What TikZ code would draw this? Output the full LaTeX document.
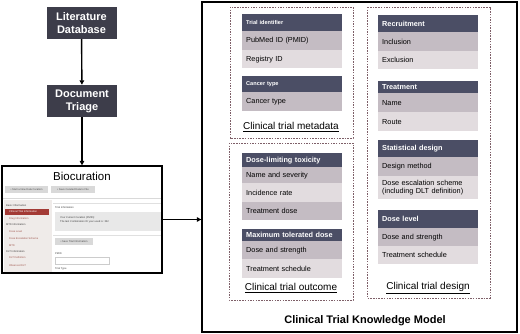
\documentclass[tikz,border=0pt]{standalone}
\usepackage{fontspec}
\setmainfont{Liberation Sans}
\usetikzlibrary{arrows.meta}
\definecolor{hdr}{HTML}{4B4E65}
\definecolor{rowa}{HTML}{C4BCC3}
\definecolor{rowb}{HTML}{E2DCDF}
\definecolor{boxdark}{HTML}{3D3D4A}
\definecolor{dashc}{HTML}{7E5F68}
\definecolor{sel}{HTML}{A33A35}
\definecolor{side}{HTML}{EFEBE9}
\definecolor{subt}{HTML}{A0584F}
\begin{document}
\begin{tikzpicture}[x=1pt,y=-1pt,
  stage/.style={fill=boxdark,text=white,font=\fontsize{11}{13}\selectfont\bfseries,align=center,minimum width=70,minimum height=32,inner sep=0},
  cell/.style={anchor=north west,text width=92,inner xsep=4,inner ysep=0,align=left,minimum width=100,font=\fontsize{7.3}{8.4}\selectfont},
  hd/.style={cell,fill=hdr,text=white,font=\fontsize{7.3}{8.4}\selectfont\bfseries},
  hds/.style={hd,font=\fontsize{5.6}{6.5}\selectfont\bfseries},
  ra/.style={cell,fill=rowa},
  rb/.style={cell,fill=rowb},
  grp/.style={draw=dashc,dashed,line width=0.6,dash pattern=on 1.5 off 1.2},
  glab/.style={font=\fontsize{10}{12}\selectfont},
  conn/.style={line width=1.4,-{Triangle[length=4.5,width=4.5]}},
  tiny/.style={font=\fontsize{2.6}{3}\selectfont,inner sep=0,anchor=west,text=black!75},
  subi/.style={tiny,text=subt},
  btn/.style={fill=black!15,font=\fontsize{2.6}{3}\selectfont,text=black!70,inner sep=0,minimum height=7}
]
\useasboundingbox (0,0) rectangle (520,334);

% left pipeline
\node[stage] (lit) at (81.5,23) {Literature\\Database};
\node[stage] (doc) at (82,101) {Document\\Triage};
\node[draw=black,line width=1.2,minimum width=160,minimum height=107,inner sep=0] (bio) at (82,219.5) {};
\node[font=\fontsize{11.5}{13}\selectfont] (biot) at (82,176) {Biocuration};
\node[btn,minimum width=43] (b1) at (26.5,190) {\textbullet\ Start a New Data Curation};
\node[btn,minimum width=44] (b2) at (73,190) {\textbullet\ Save Curated Data to File};
\draw[black!15,line width=0.4] (3,198) -- (161,198);
\fill[side] (4,200) rectangle (52,272);
\node[tiny] (s1) at (6,206) {Basic Information};
\fill[sel] (5,209) rectangle (49,215);
\node[tiny,text=white] (s2) at (9,212) {Clinical Trial Information};
\node[subi] (s3) at (9,219) {Drug Information};
\node[tiny] (s4) at (6,225) {MTD Information};
\node[subi] (s5) at (9,232) {Dose Level};
\node[subi] (s6) at (9,239) {Dose Escalation Scheme};
\node[subi] (s7) at (9,246) {MTD};
\node[tiny] (s8) at (6,252) {DLT Information};
\node[subi] (s9) at (9,258) {DLT Definition};
\node[subi] (s10) at (9,266) {Observed DLT};
\draw[black!12,line width=0.4] (53,203) -- (161,203);
\node[tiny] (ti) at (55,208) {Trial Information};
\fill[black!9] (55,212) rectangle (161,231);
\node[tiny] (t1) at (60,218) {Your Current Curation (PMID):};
\node[tiny] (t2) at (60,222) {The last Combination ID your used is: 352};
\draw[black!12,line width=0.4] (53,235) -- (161,235);
\node[btn,minimum width=38] (b3) at (74,241.5) {\textbullet\ Save Trial Information};
\node[tiny] (pm) at (55,254) {PMID};
\draw[black!20,line width=0.4,fill=white] (55,257) rectangle (109,264);
\node[tiny] (tt) at (55,269) {Trial Type};

% knowledge model
\node[draw=black,line width=1.3,minimum width=315,minimum height=330,inner sep=0] (km) at (359.5,167) {};
\node[font=\fontsize{11}{13}\selectfont\bfseries] (kmt) at (365,321) {Clinical Trial Knowledge Model};

\draw[conn] (lit) -- (doc);
\draw[conn] (doc) -- (bio);
\draw[conn] (bio.east) -- (bio.east -| km.west);

% metadata group
\draw[grp] (230,7) rectangle (353,138);
\node[hds,minimum height=17] (m1) at (242,14) {Trial identifier};
\node[ra,minimum height=19] (m2) at (242,31) {PubMed ID (PMID)};
\node[rb,minimum height=18] (m3) at (242,50) {Registry ID};
\node[hds,minimum height=16] (m4) at (242,76) {Cancer type};
\node[ra,minimum height=19] (m5) at (242,92) {Cancer type};
\node[glab] (ml) at (291,127) {\underline{Clinical trial metadata}};

% outcome group
\draw[grp] (229,143) rectangle (353,300);
\node[hd,minimum height=14] (o1) at (242,153) {Dose-limiting toxicity};
\node[ra,minimum height=16] (o2) at (242,167) {Name and severity};
\node[rb,minimum height=19] (o3) at (242,183) {Incidence rate};
\node[ra,minimum height=18] (o4) at (242,202) {Treatment dose};
\node[hd,minimum height=12] (o5) at (242,229) {Maximum tolerated dose};
\node[ra,minimum height=18] (o6) at (242,241) {Dose and strength};
\node[rb,minimum height=19] (o7) at (242,259) {Treatment schedule};
\node[glab] (ol) at (291,288) {\underline{Clinical trial outcome}};

% design group
\draw[grp] (367,7) rectangle (490,298);
\node[hd,minimum height=17] (d1) at (378,15) {Recruitment};
\node[ra,minimum height=19] (d2) at (378,32) {Inclusion};
\node[rb,minimum height=18] (d3) at (378,51) {Exclusion};
\node[hd,minimum height=12] (d4) at (378,81) {Treatment};
\node[ra,minimum height=19] (d5) at (378,93) {Name};
\node[rb,minimum height=19] (d6) at (378,112) {Route};
\node[hd,minimum height=17] (d7) at (378,140) {Statistical design};
\node[ra,minimum height=19] (d8) at (378,157) {Design method};
\node[rb,minimum height=23] (d9) at (378,176) {Dose escalation scheme\\(including DLT definition)};
\node[hd,minimum height=18] (d10) at (378,210) {Dose level};
\node[ra,minimum height=18] (d11) at (378,228) {Dose and strength};
\node[rb,minimum height=18] (d12) at (378,246) {Treatment schedule};
\node[glab] (dl) at (428,288) {\underline{Clinical trial design}};
\end{tikzpicture}
\end{document}
